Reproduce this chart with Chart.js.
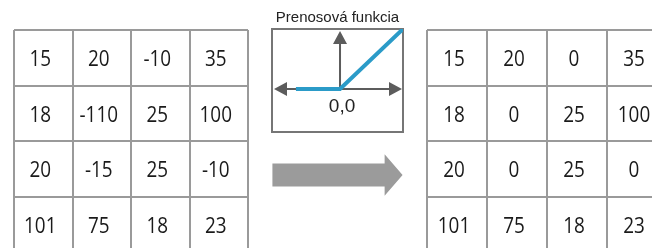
<!DOCTYPE html>
<html>
<head>
<meta charset="utf-8">
<script src="https://cdn.jsdelivr.net/npm/chart.js@4.4.1/dist/chart.umd.min.js"></script>
<style>
html, body { margin: 0; padding: 0; background: #fff; overflow: hidden; width: 652px; height: 248px; }
.box { position: absolute; }
</style>
</head>
<body>
<div class="box" style="left:12px;top:28px;width:238px;height:226px"><canvas id="inputTable"></canvas></div>
<div class="box" style="left:262px;top:0px;width:151px;height:136px"><canvas id="transfer"></canvas></div>
<div class="box" style="left:262px;top:150px;width:151px;height:50px"><canvas id="bigArrow"></canvas></div>
<div class="box" style="left:425px;top:28px;width:244px;height:226px"><canvas id="outputTable"></canvas></div>
<script>
// values of the input feature map (rows top to bottom)
const inputValues = [
    [15, 20, -10, 35],
    [18, -110, 25, 100],
    [20, -15, 25, -10],
    [101, 75, 18, 23]
];
// values after the transfer function
const outputValues = [
    [15, 20, 0, 35],
    [18, 0, 25, 100],
    [20, 0, 25, 0],
    [101, 75, 18, 23]
];
// transfer function (ReLU) sample points
const reluX = [-0.7, 0, 1];
const reluY = [0, 0, 1];
// big arrow outline
const arrowX = [0, 0.862, 0.862, 1, 0.862, 0.862, 0, 0];
const arrowY = [-0.55, -0.55, -1, 0, 1, 0.55, 0.55, -0.55];

const titleText = 'Prenosová funkcia';
const originText = '0,0';

const gridColor = '#9a9a9a';
const textColor = '#1a1a1a';

// writes each cell value at its point (slightly condensed like the original)
const cellTextPlugin = {
    id: 'cellText',
    afterDatasetsDraw(chart) {
        const ctx = chart.ctx;
        const ds = chart.data.datasets[0];
        const meta = chart.getDatasetMeta(0);
        ctx.save();
        ctx.font = '21px "Open Sans"';
        ctx.fillStyle = textColor;
        ctx.textAlign = 'center';
        ctx.textBaseline = 'middle';
        meta.data.forEach((pt, i) => {
            ctx.save();
            ctx.translate(pt.x - 3, pt.y + 2.5);
            ctx.scale(0.9, 1);
            ctx.fillText(String(ds.values[i]), 0, 0);
            ctx.restore();
        });
        ctx.restore();
    }
};

function makeTable(canvasId, values) {
    const points = [];
    const flat = [];
    values.forEach((row, r) => row.forEach((v, c) => {
        points.push({ x: c + 0.5, y: r + 0.5 });
        flat.push(v);
    }));
    const axis = (reverse) => ({
        type: 'linear', min: 0, max: 4, reverse: reverse,
        ticks: { display: false, stepSize: 1 },
        grid: { color: gridColor, lineWidth: 2, drawTicks: false },
        border: { display: false }
    });
    return new Chart(document.getElementById(canvasId), {
        type: 'scatter',
        data: { datasets: [{ data: points, values: flat, pointRadius: 0 }] },
        options: {
            responsive: true, maintainAspectRatio: false, animation: false,
            layout: { padding: 2 },
            plugins: { legend: { display: false }, tooltip: { enabled: false } },
            scales: { x: axis(false), y: axis(true) }
        },
        plugins: [cellTextPlugin]
    });
}

makeTable('inputTable', inputValues);
makeTable('outputTable', outputValues);

// frame, axes with arrowheads and the origin label
const axesPlugin = {
    id: 'reluAxes',
    beforeDatasetsDraw(chart) {
        const ctx = chart.ctx;
        const a = chart.chartArea;
        const x0 = chart.scales.x.getPixelForValue(0);
        const y0 = chart.scales.y.getPixelForValue(0);
        ctx.save();
        ctx.strokeStyle = '#767676';
        ctx.lineWidth = 2;
        ctx.strokeRect(a.left, a.top, a.right - a.left, a.bottom - a.top);

        const axisColor = '#5c5c5c';
        ctx.strokeStyle = axisColor;
        ctx.fillStyle = axisColor;
        ctx.lineWidth = 2;
        const left = a.left + 2, right = a.right - 1, top = a.top + 2;
        const len = 13, half = 7;
        ctx.beginPath();
        ctx.moveTo(left + len, y0); ctx.lineTo(right - len, y0);
        ctx.moveTo(x0, y0); ctx.lineTo(x0, top + len);
        ctx.stroke();
        ctx.beginPath();
        ctx.moveTo(left, y0); ctx.lineTo(left + len, y0 - half); ctx.lineTo(left + len, y0 + half); ctx.closePath();
        ctx.moveTo(right, y0); ctx.lineTo(right - len, y0 - half); ctx.lineTo(right - len, y0 + half); ctx.closePath();
        ctx.moveTo(x0, top); ctx.lineTo(x0 - half, top + len); ctx.lineTo(x0 + half, top + len); ctx.closePath();
        ctx.fill();

        ctx.font = '19px "Liberation Sans"';
        ctx.fillStyle = '#222';
        ctx.textAlign = 'center';
        ctx.textBaseline = 'middle';
        ctx.fillText(originText, x0 + 2, y0 + 18);
        ctx.restore();
    }
};

new Chart(document.getElementById('transfer'), {
    type: 'scatter',
    data: {
        datasets: [{
            data: reluX.map((x, i) => ({ x: x, y: reluY[i] })),
            showLine: true, pointRadius: 0,
            borderColor: '#2b9bc8', borderWidth: 4, borderCapStyle: 'butt'
        }]
    },
    options: {
        responsive: true, maintainAspectRatio: false, animation: false,
        layout: { padding: { left: 10, right: 10, top: 0, bottom: 4 } },
        plugins: {
            legend: { display: false }, tooltip: { enabled: false },
            title: {
                display: true, text: titleText, color: '#222',
                font: { family: 'Liberation Sans', size: 15, weight: 'normal' },
                padding: { top: 9, bottom: 2 }
            }
        },
        scales: {
            x: { type: 'linear', min: -1.08, max: 1, display: false },
            y: { type: 'linear', min: -0.72, max: 1, display: false }
        }
    },
    plugins: [axesPlugin]
});

new Chart(document.getElementById('bigArrow'), {
    type: 'scatter',
    data: {
        datasets: [{
            data: arrowX.map((x, i) => ({ x: x, y: arrowY[i] })),
            showLine: true, pointRadius: 0, borderWidth: 0,
            borderColor: '#9b9b9b', backgroundColor: '#9b9b9b',
            fill: 'shape'
        }]
    },
    options: {
        responsive: true, maintainAspectRatio: false, animation: false,
        layout: { padding: 0 },
        plugins: { legend: { display: false }, tooltip: { enabled: false } },
        scales: {
            x: { type: 'linear', min: -0.08, max: 1.08, display: false },
            y: { type: 'linear', min: -1.2, max: 1.2, display: false }
        }
    }
});
</script>
</body>
</html>
